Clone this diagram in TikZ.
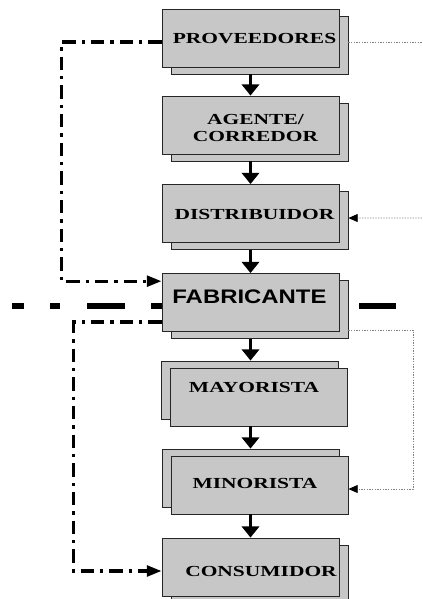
\documentclass[tikz,border=0pt]{standalone}
\usepackage{fontspec}
\usetikzlibrary{arrows.meta,shadows}
\newfontfamily\boxfont[FakeStretch=1.4]{Liberation Serif}
\newfontfamily\fabfont[FakeStretch=1.22]{Liberation Sans}
\tikzset{
  stage/.style={draw=black!85, fill=black!22, line width=0.6pt,
    minimum width=132.75pt, minimum height=43.5pt, inner sep=0pt},
  behind/.style={copy shadow={shadow xshift=6.75pt, shadow yshift=-5.25pt}},
  infront/.style={copy shadow={shadow xshift=-6.75pt, shadow yshift=5.25pt}},
  stagename/.style={inner sep=0pt, align=center,
    font=\boxfont\bfseries\fontsize{11.5}{12.5}\selectfont},
  flow/.style={line width=2.25pt, -{Triangle[length=8.5pt,width=13pt]}},
  supply/.style={line width=2.4pt, dash pattern=on 10pt off 4.5pt on 2.5pt off 4.5pt,
    -{Triangle[length=11pt,width=8pt]}},
  info/.style={black!50, line width=0.7pt, dash pattern=on 1pt off 1pt},
  infotip/.style={-{Triangle[length=7pt,width=6pt,color=black]}},
  cutline/.style={line width=4.9pt}
}
\begin{document}
\begin{tikzpicture}[x=0.75pt,y=-0.75pt]
\useasboundingbox (0,0) rectangle (422,599);
% dividing line behind the manufacturer
\foreach \a/\b in {12/24,50/60,87/125,151/170,359/396}
  \draw[cutline] (\a,306) -- (\b,306);
% chain
\node[stage,behind] (prov) at (250.5,38) {};
\node[stage,behind] (agente) at (250.5,125) {};
\node[stage,behind] (dist) at (250.5,213.5) {};
\node[stage,behind] (fab) at (250.5,302.5) {};
\node[stage,infront] (mayor) at (259,397) {};
\node[stage,infront] (minor) at (259.5,485) {};
\node[stage,behind] (cons) at (250.5,567) {};
\node[stagename] (provtxt) at (254.5,38.8) {PROVEEDORES};
\node[stagename] (agentetxt) at (255.5,128.3) {AGENTE/\\CORREDOR};
\node[stagename] (disttxt) at (254.5,214.6) {DISTRIBUIDOR};
\node[stagename,font=\fabfont\bfseries\fontsize{14.7}{16}\selectfont] (fabtxt) at (249.5,296.3) {FABRICANTE};
\node[stagename] (mayortxt) at (254,387.7) {MAYORISTA};
\node[stagename] (minortxt) at (255,483.7) {MINORISTA};
\node[stagename] (constxt) at (261,571.7) {CONSUMIDOR};
% main flow
\draw[flow] ([yshift=-5.25pt]prov.south) -- (agente.north);
\draw[flow] ([yshift=-5.25pt]agente.south) -- (dist.north);
\draw[flow] ([yshift=-5.25pt]dist.south) -- (fab.north);
\draw[flow] ([yshift=-5.25pt]fab.south) -- ([yshift=5.25pt]fab.south |- mayor.north);
\draw[flow] (fab.south |- mayor.south) -- ([yshift=5.25pt]fab.south |- minor.north);
\draw[flow] (fab.south |- minor.south) -- (cons.north);
% direct links
\draw[supply] ([yshift=-3pt]prov.west) -- ++(-100,0) |- ([yshift=16pt]fab.west);
\draw[supply] ([yshift=-14.6pt]fab.west) -- ++(-88,0) |- ([yshift=-3pt]cons.west);
% dotted links on the right
\coordinate (edgetop) at (422,42);
\coordinate (edgemid) at (422,218);
\draw[info] ([xshift=6.75pt,yshift=-3pt]prov.east) -- (edgetop);
\draw[info,infotip] (edgemid) -- ([xshift=6.75pt,yshift=-3.4pt]dist.east);
\draw[info,infotip] ([xshift=6.75pt,yshift=-20.6pt]fab.east) -- ++(65,0) |- ([yshift=-3pt]minor.east);
\end{tikzpicture}
\end{document}
